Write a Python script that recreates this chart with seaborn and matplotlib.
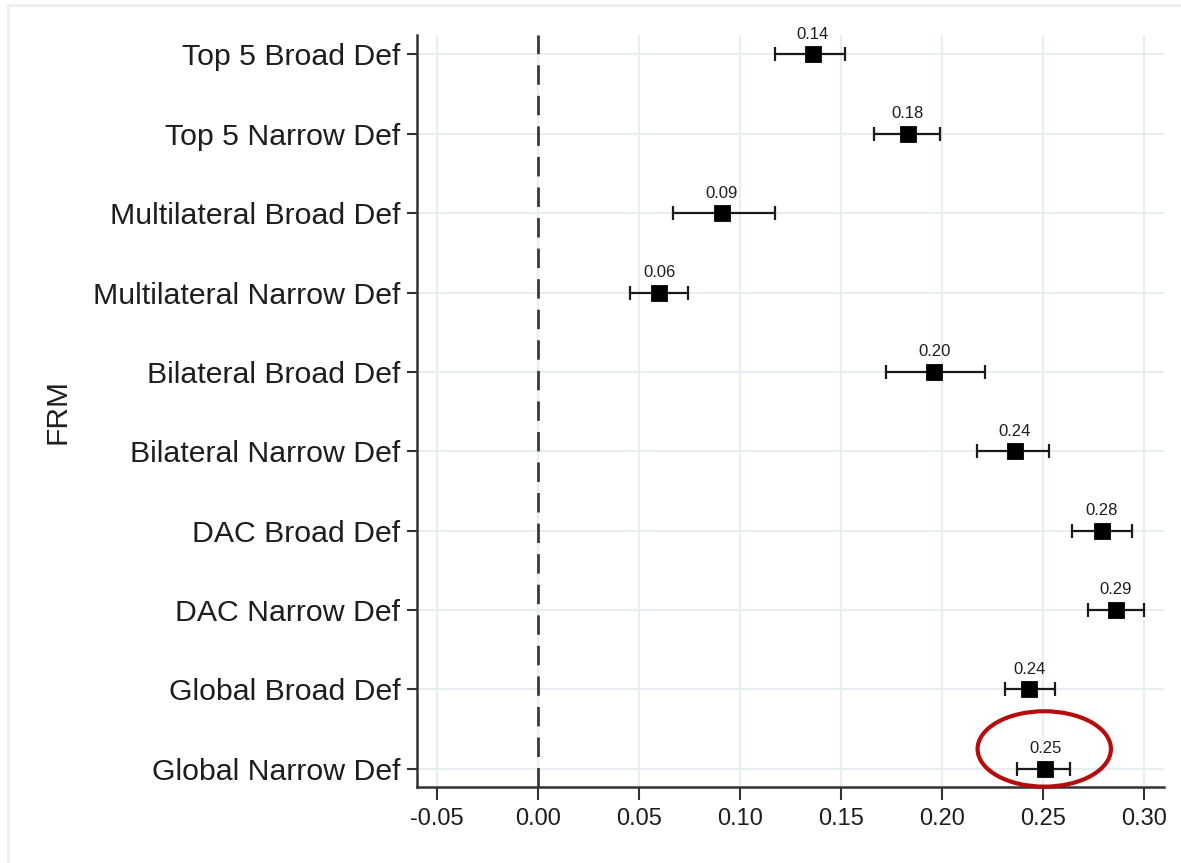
import matplotlib
matplotlib.use("Agg")
import matplotlib.pyplot as plt
from matplotlib.patches import Ellipse
import seaborn as sns
import pandas as pd

# FRM coefficient estimates with 95% confidence bounds
labels = [
    "Top 5 Broad Def", "Top 5 Narrow Def",
    "Multilateral Broad Def", "Multilateral Narrow Def",
    "Bilateral Broad Def", "Bilateral Narrow Def",
    "DAC Broad Def", "DAC Narrow Def",
    "Global Broad Def", "Global Narrow Def",
]
estimate = [0.136, 0.183, 0.091, 0.060, 0.196, 0.236, 0.279, 0.286, 0.243, 0.251]
ci_low = [0.117, 0.166, 0.067, 0.0455, 0.172, 0.217, 0.264, 0.272, 0.231, 0.237]
ci_high = [0.152, 0.199, 0.117, 0.074, 0.221, 0.253, 0.294, 0.300, 0.256, 0.263]
x_ticks = [-0.05, 0.00, 0.05, 0.10, 0.15, 0.20, 0.25, 0.30]

df = pd.DataFrame({"label": labels, "est": estimate, "lo": ci_low, "hi": ci_high})

sns.set_theme(style="white")
plt.rcParams["font.family"] = ["Liberation Sans", "DejaVu Sans"]

text_col = "#1e1e1e"
grid_col = "#e6eef1"
spine_col = "#333333"

fig = plt.figure(figsize=(11.81, 8.63), dpi=100)
ax = fig.add_axes([0.353, 0.088, 0.633, 0.871])

# grid
for xt in x_ticks:
    ax.axvline(xt, color=grid_col, lw=1.5, zorder=0)
for i in range(len(labels)):
    ax.axhline(i, color=grid_col, lw=1.5, zorder=0)

# reference line at zero
ax.axvline(0, color="#3a3a3a", lw=2.0, dashes=(7, 4), zorder=1)

# confidence intervals
ax.errorbar(df["est"], range(len(df)),
            xerr=[df["est"] - df["lo"], df["hi"] - df["est"]],
            fmt="none", ecolor="#1a1a1a", elinewidth=1.6, capsize=5,
            capthick=1.6, zorder=2)

# point estimates
sns.pointplot(data=df, x="est", y="label", order=labels, linestyle="none",
              marker="s", markersize=10.5, color="black", errorbar=None,
              ax=ax, zorder=3)

# value labels
for i, v in enumerate(estimate):
    ax.annotate(f"{v:.2f}", (v, i), xytext=(0, 14.5), textcoords="offset points",
                ha="center", va="center", fontsize=12, color=text_col)

# highlight the global narrow estimate
ax.add_patch(Ellipse((0.2505, 9 - 0.25), width=0.066, height=0.95,
                     fill=False, edgecolor="#b50d0d", lw=3, zorder=4,
                     clip_on=False))

ax.set_xlim(-0.060, 0.310)
ax.set_ylim(len(labels) - 1 + 0.23, -0.24)
ax.set_xticks(x_ticks)
ax.set_xticklabels([f"{t:.2f}" for t in x_ticks])
ax.set_yticks(range(len(labels)))
ax.set_yticklabels(labels)

ax.tick_params(axis="x", length=9, width=1.5, color=spine_col, pad=6,
               labelsize=17, labelcolor=text_col, bottom=True)
ax.tick_params(axis="y", length=7, width=1.5, color=spine_col, pad=5,
               labelsize=21.8, labelcolor=text_col, left=True)

ax.set_xlabel("")
ax.set_ylabel("FRM", fontsize=21.5, color=text_col, labelpad=0)
ax.yaxis.set_label_coords(-0.462, 0.5)

for side in ("top", "right"):
    ax.spines[side].set_visible(False)
for side in ("left", "bottom"):
    ax.spines[side].set_color(spine_col)
    ax.spines[side].set_linewidth(1.8)

# light frame around the graph region
fig.add_artist(plt.Line2D([0.007, 1.0], [0.994, 0.994], transform=fig.transFigure,
                          color="#e9f0f3", lw=2))
fig.add_artist(plt.Line2D([0.007, 0.007], [0.0, 0.994], transform=fig.transFigure,
                          color="#e9f0f3", lw=2))

fig.savefig("out.png", dpi=100, facecolor="white")
